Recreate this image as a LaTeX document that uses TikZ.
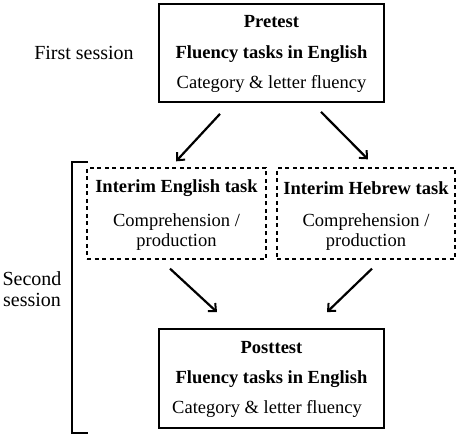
\documentclass[tikz,border=0pt]{standalone}
\usepackage{fontspec}
\setmainfont{Liberation Serif}
\usetikzlibrary{arrows.meta,calc}
\tikzset{
  every node/.style={font=\fontsize{18.5}{21}\selectfont},
  session/.style={font=\fontsize{20}{22}\selectfont,align=center},
  taskbox/.style={draw,line width=1.8pt,align=center,inner sep=0pt},
  interim/.style={taskbox,dash pattern=on 4pt off 3.5pt,line width=1.3pt},
  flow/.style={line width=2.2pt,-{Straight Barb[length=6pt,width=11pt,line width=2pt]}},
}
\begin{document}
\begin{tikzpicture}[x=1pt,y=-1pt]
    \useasboundingbox (0,0) rectangle (459,438);

    % Pretest box
    \node [taskbox,minimum width=225pt,minimum height=98pt] (pre) at (271.5,53) {};
    \node (preA) at (271.5,22) {\textbf{Pretest}};
    \node (preB) at (271.5,54) {\textbf{Fluency tasks in English}};
    \node (preC) at (271.5,84) {Category \& letter fluency};

    % Session labels
    \node [session] (first) at (84,53) {First session};
    \node [session] (second) at (32,289) {Second\\[-1pt]session};

    % Interim boxes
    \node [interim,minimum width=179pt,minimum height=91pt] (eng) at (176.5,213.5) {};
    \node (engA) at (176.5,188) {\textbf{Interim English task}};
    \node [align=center] (engB) at (176.5,232) {Comprehension /\\[-1pt]production};

    \node [interim,minimum width=178pt,minimum height=91pt] (heb) at (366,213.5) {};
    \node (hebA) at (366,188) {\textbf{Interim Hebrew task}};
    \node [align=center] (hebB) at (366,232) {Comprehension /\\[-1pt]production};

    % Posttest box
    \node [taskbox,minimum width=225pt,minimum height=99pt] (post) at (271.5,378.5) {};
    \node (postA) at (271.5,348) {\textbf{Posttest}};
    \node (postB) at (271.5,379) {\textbf{Fluency tasks in English}};
    \node (postC) at (267,409) {Category \& letter fluency};

    % Arrows
    \draw [flow] ([xshift=-51.5pt,yshift=-11pt]pre.south) -- ([xshift=-0.5pt,yshift=6pt]eng.north);
    \draw [flow] ([xshift=49.5pt,yshift=-9pt]pre.south) -- ([xshift=2pt,yshift=8pt]heb.north);
    \draw [flow] ([xshift=-6.5pt,yshift=-9pt]eng.south) -- ([xshift=-54.5pt,yshift=16pt]post.north);
    \draw [flow] ([xshift=6pt,yshift=-9pt]heb.south) -- ([xshift=55.5pt,yshift=16pt]post.north);

    % Bracket for second session
    \draw [line width=2.4pt] (88,162) -- (72,162) -- (72,433) -- (88,433);
\end{tikzpicture}
\end{document}
